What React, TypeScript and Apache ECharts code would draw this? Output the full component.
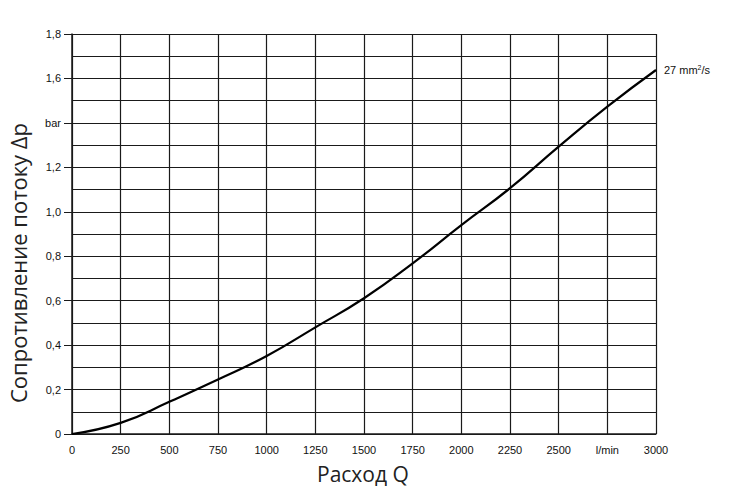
import React, { useEffect, useRef } from "react";
import * as echarts from "echarts";

const flowValues = [0, 250, 500, 750, 1000, 1250, 1500, 1750, 2000, 2250, 2500, 2750, 3000];
const pressureValues = [0, 0.05, 0.145, 0.245, 0.351, 0.48, 0.611, 0.768, 0.94, 1.106, 1.293, 1.473, 1.638];
const xTickOverrides: Record<number, string> = { 2750: "l/min" };
const yTickOverrides: Record<string, string> = { "1.4": "bar" };
const curveLabel = "27 mm²/s";
const xTitle = "Расход Q";
const yTitle = "Сопротивление потоку Δp";

export default function App() {
  const ref = useRef<HTMLDivElement>(null);
  useEffect(() => {
    if (!ref.current) return;
    const chart = echarts.init(ref.current, undefined, { renderer: "svg" });
    const data = flowValues.map((x, i) => [x, pressureValues[i]]);
    const gridColor = "#1a1a1a";
    chart.setOption({
      animation: false,
      backgroundColor: "#fff",
      grid: { left: 72, right: 81, top: 34, bottom: 59, containLabel: false },
      xAxis: {
        type: "value",
        min: 0,
        max: 3000,
        interval: 250,
        axisLine: { show: true, lineStyle: { color: gridColor, width: 1.5 } },
        axisTick: { show: false },
        splitLine: { show: true, lineStyle: { color: gridColor, width: 1.2 } },
        axisLabel: {
          margin: 10,
          color: "#111",
          fontFamily: "Liberation Sans, Arial, sans-serif",
          fontSize: 11,
          formatter: (v: number) => xTickOverrides[v] ?? String(v),
        },
      },
      yAxis: [
        {
          type: "value",
          min: 0,
          max: 1.8,
          interval: 0.1,
          position: "left",
          axisLine: { show: true, lineStyle: { color: gridColor, width: 1.5 } },
          axisTick: { show: false },
          axisLabel: { show: false },
          splitLine: { show: true, lineStyle: { color: gridColor, width: 1.2 } },
        },
        {
          type: "value",
          min: 0,
          max: 1.8,
          interval: 0.2,
          position: "left",
          offset: 0,
          axisLine: { show: false },
          axisTick: { show: true, length: 8, lineStyle: { color: gridColor, width: 1 } },
          splitLine: { show: false },
          axisLabel: {
            margin: 11,
            color: "#111",
            fontFamily: "Liberation Sans, Arial, sans-serif",
            fontSize: 11,
            formatter: (v: number) => {
              const key = (Math.round(v * 10) / 10).toString();
              if (yTickOverrides[key]) return yTickOverrides[key];
              if (Math.abs(v) < 1e-9) return "0";
              return v.toFixed(1).replace(".", ",");
            },
          },
        },
      ],
      series: [
        {
          type: "line",
          data,
          smooth: 0.5,
          showSymbol: false,
          symbol: "none",
          lineStyle: { color: "#000", width: 2.2 },
          endLabel: {
            show: true,
            distance: 8,
            formatter: "{a|27 mm}{s|2}{a|/s}",
            rich: {
              a: { fontFamily: "Liberation Sans, Arial, sans-serif", fontSize: 11, color: "#111" },
              s: { fontFamily: "Liberation Sans, Arial, sans-serif", fontSize: 7, color: "#111", verticalAlign: "top", padding: [0, 0, 6, 0] },
            },
          },
        },
      ],
      graphic: [
        {
          type: "text",
          left: 317,
          top: 463,
          style: { text: xTitle, fontFamily: "Open Sans, Noto Sans, sans-serif", fontSize: 21, fill: "#222" },
        },
        {
          type: "text",
          x: 7,
          y: 263,
          rotation: Math.PI / 2,
          style: {
            text: yTitle,
            fontFamily: "Open Sans, Noto Sans, sans-serif",
            fontSize: 22,
            fill: "#222",
            align: "center",
            verticalAlign: "top",
          },
        },
      ],
    });
    return () => chart.dispose();
  }, []);
  return <div ref={ref} style={{ width: 737, height: 493, position: "absolute", left: 0, top: 0 }} aria-label={curveLabel} />;
}
